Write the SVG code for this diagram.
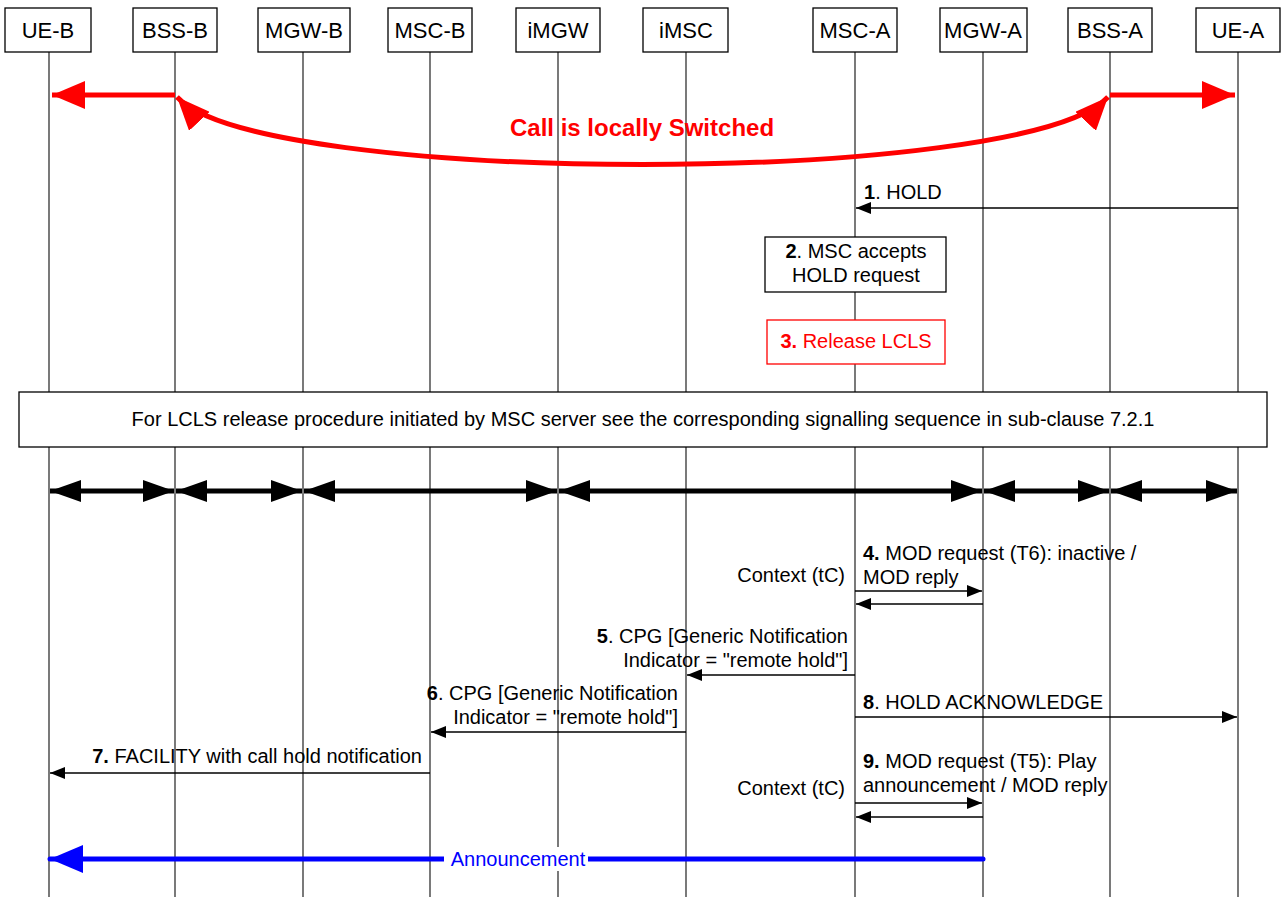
<svg xmlns="http://www.w3.org/2000/svg" width="1283" height="897" viewBox="0 0 1283 897">
<style>
text{font-family:"Liberation Sans",Arial,sans-serif;fill:#000}
.hd{font-size:22px;text-anchor:middle}
.t{font-size:20px}
.e{text-anchor:end}
.m{text-anchor:middle}
.box{fill:#fff;stroke:#000;stroke-width:1.3}
.life{stroke:#333;stroke-width:1.3;fill:none}
.msg{stroke:#000;stroke-width:1.3;fill:none;marker-end:url(#a)}
.dbl{stroke:#000;stroke-width:5;fill:none;marker-start:url(#kb);marker-end:url(#kb)}
</style>
<defs>
<marker id="a" markerUnits="userSpaceOnUse" markerWidth="16" markerHeight="12" refX="15" refY="6" orient="auto"><path d="M0,0 L15,6 L0,12 z" fill="#000"/></marker>
<marker id="kb" markerUnits="userSpaceOnUse" markerWidth="32" markerHeight="22" refX="31" refY="11" orient="auto-start-reverse"><path d="M0,0 L31,11 L0,22 z" fill="#000"/></marker>
<marker id="r" markerUnits="userSpaceOnUse" markerWidth="34" markerHeight="28" refX="33" refY="14" orient="auto-start-reverse"><path d="M0,0 L33,14 L0,28 z" fill="#f00"/></marker>
<marker id="b" markerUnits="userSpaceOnUse" markerWidth="34" markerHeight="28" refX="33" refY="14" orient="auto"><path d="M0,0 L33,14 L0,28 z" fill="#00f"/></marker>
</defs>
<rect width="1283" height="897" fill="#fff"/>
<g id="lifelines">
<path class="life" d="M49,52V897M175,52V897M303,52V897M430,52V897M558,52V897M686,52V897M855,52V897M983,52V897M1110,52V897M1238,52V897"/>
</g>
<g id="UE-B"><rect class="box" x="5" y="8" width="86" height="44"/><text class="hd" x="48" y="38">UE-B</text></g>
<g id="BSS-B"><rect class="box" x="133" y="8" width="84" height="44"/><text class="hd" x="175" y="38">BSS-B</text></g>
<g id="MGW-B"><rect class="box" x="258" y="8" width="92" height="44"/><text class="hd" x="304" y="38">MGW-B</text></g>
<g id="MSC-B"><rect class="box" x="388" y="8" width="84" height="44"/><text class="hd" x="430" y="38">MSC-B</text></g>
<g id="iMGW"><rect class="box" x="516" y="8" width="84" height="44"/><text class="hd" x="558" y="38">iMGW</text></g>
<g id="iMSC"><rect class="box" x="643" y="8" width="85" height="44"/><text class="hd" x="686" y="38">iMSC</text></g>
<g id="MSC-A"><rect class="box" x="813" y="8" width="84" height="44"/><text class="hd" x="855" y="38">MSC-A</text></g>
<g id="MGW-A"><rect class="box" x="940" y="8" width="87" height="44"/><text class="hd" x="983" y="38">MGW-A</text></g>
<g id="BSS-A"><rect class="box" x="1068" y="8" width="84" height="44"/><text class="hd" x="1110" y="38">BSS-A</text></g>
<g id="UE-A"><rect class="box" x="1196" y="8" width="84" height="44"/><text class="hd" x="1238" y="38">UE-A</text></g>

<g id="step2"><rect class="box" x="765" y="237" width="181" height="55"/><text class="t m" x="856" y="258"><tspan font-weight="bold">2</tspan>. MSC accepts</text><text class="t m" x="856" y="282">HOLD request</text></g>
<g id="step3"><rect x="767" y="320" width="178" height="44" fill="#fff" stroke="#f00" stroke-width="1.3"/><text class="t m" x="856" y="348" style="fill:#f00"><tspan font-weight="bold">3.</tspan> Release LCLS</text></g>
<g id="lcls-note"><rect class="box" x="19" y="392" width="1248" height="55"/><text class="t m" x="643" y="426">For LCLS release procedure initiated by MSC server see the corresponding signalling sequence in sub-clause 7.2.1</text></g>

<g id="connectors">
<path d="M175,95H52" stroke="#f00" stroke-width="5" fill="none" marker-end="url(#r)"/>
<path d="M1110,95H1235" stroke="#f00" stroke-width="5" fill="none" marker-end="url(#r)"/>
<path d="M177,97 C260,187 1025,187 1108,97" stroke="#f00" stroke-width="5" fill="none" marker-start="url(#r)" marker-end="url(#r)"/>
<path class="msg" d="M1238,208H856"/>
<path class="dbl" d="M50,491H174"/>
<path class="dbl" d="M176,491H302"/>
<path class="dbl" d="M304,491H557"/>
<path class="dbl" d="M559,491H982"/>
<path class="dbl" d="M984,491H1109"/>
<path class="dbl" d="M1111,491H1237"/>
<path class="msg" d="M855,591H982"/>
<path class="msg" d="M983,604H856"/>
<path class="msg" d="M855,675H687"/>
<path class="msg" d="M855,717H1237"/>
<path class="msg" d="M686,732H431"/>
<path class="msg" d="M430,773H50"/>
<path class="msg" d="M855,803H982"/>
<path class="msg" d="M983,817H856"/>
<path d="M983,859H50" stroke="#00f" stroke-width="5" fill="none" stroke-linecap="round" marker-end="url(#b)"/>
</g>

<g id="labels">
<text x="642" y="136" text-anchor="middle" style="fill:#f00;font-size:24px;font-weight:bold">Call is locally Switched</text>
<text class="t" x="864" y="199"><tspan font-weight="bold">1</tspan>. HOLD</text>
<text class="t e" x="845" y="582">Context (tC)</text>
<text class="t" x="863" y="560"><tspan font-weight="bold">4.</tspan> MOD request (T6): inactive /</text>
<text class="t" x="863" y="584">MOD reply</text>
<text class="t e" x="848" y="643"><tspan font-weight="bold">5</tspan>. CPG [Generic Notification</text>
<text class="t e" x="848" y="667">Indicator = "remote hold"]</text>
<text class="t" x="863" y="709"><tspan font-weight="bold">8</tspan>. HOLD ACKNOWLEDGE</text>
<text class="t e" x="678" y="700"><tspan font-weight="bold">6</tspan>. CPG [Generic Notification</text>
<text class="t e" x="678" y="724">Indicator = "remote hold"]</text>
<text class="t e" x="422" y="763"><tspan font-weight="bold">7.</tspan> FACILITY with call hold notification</text>
<text class="t" x="863" y="768"><tspan font-weight="bold">9.</tspan> MOD request (T5): Play</text>
<text class="t" x="863" y="792">announcement / MOD reply</text>
<text class="t e" x="845" y="795">Context (tC)</text>
<rect x="444" y="847" width="144" height="24" fill="#fff"/>
<text class="t m" x="518" y="866" style="fill:#00f">Announcement</text>
</g>
</svg>
